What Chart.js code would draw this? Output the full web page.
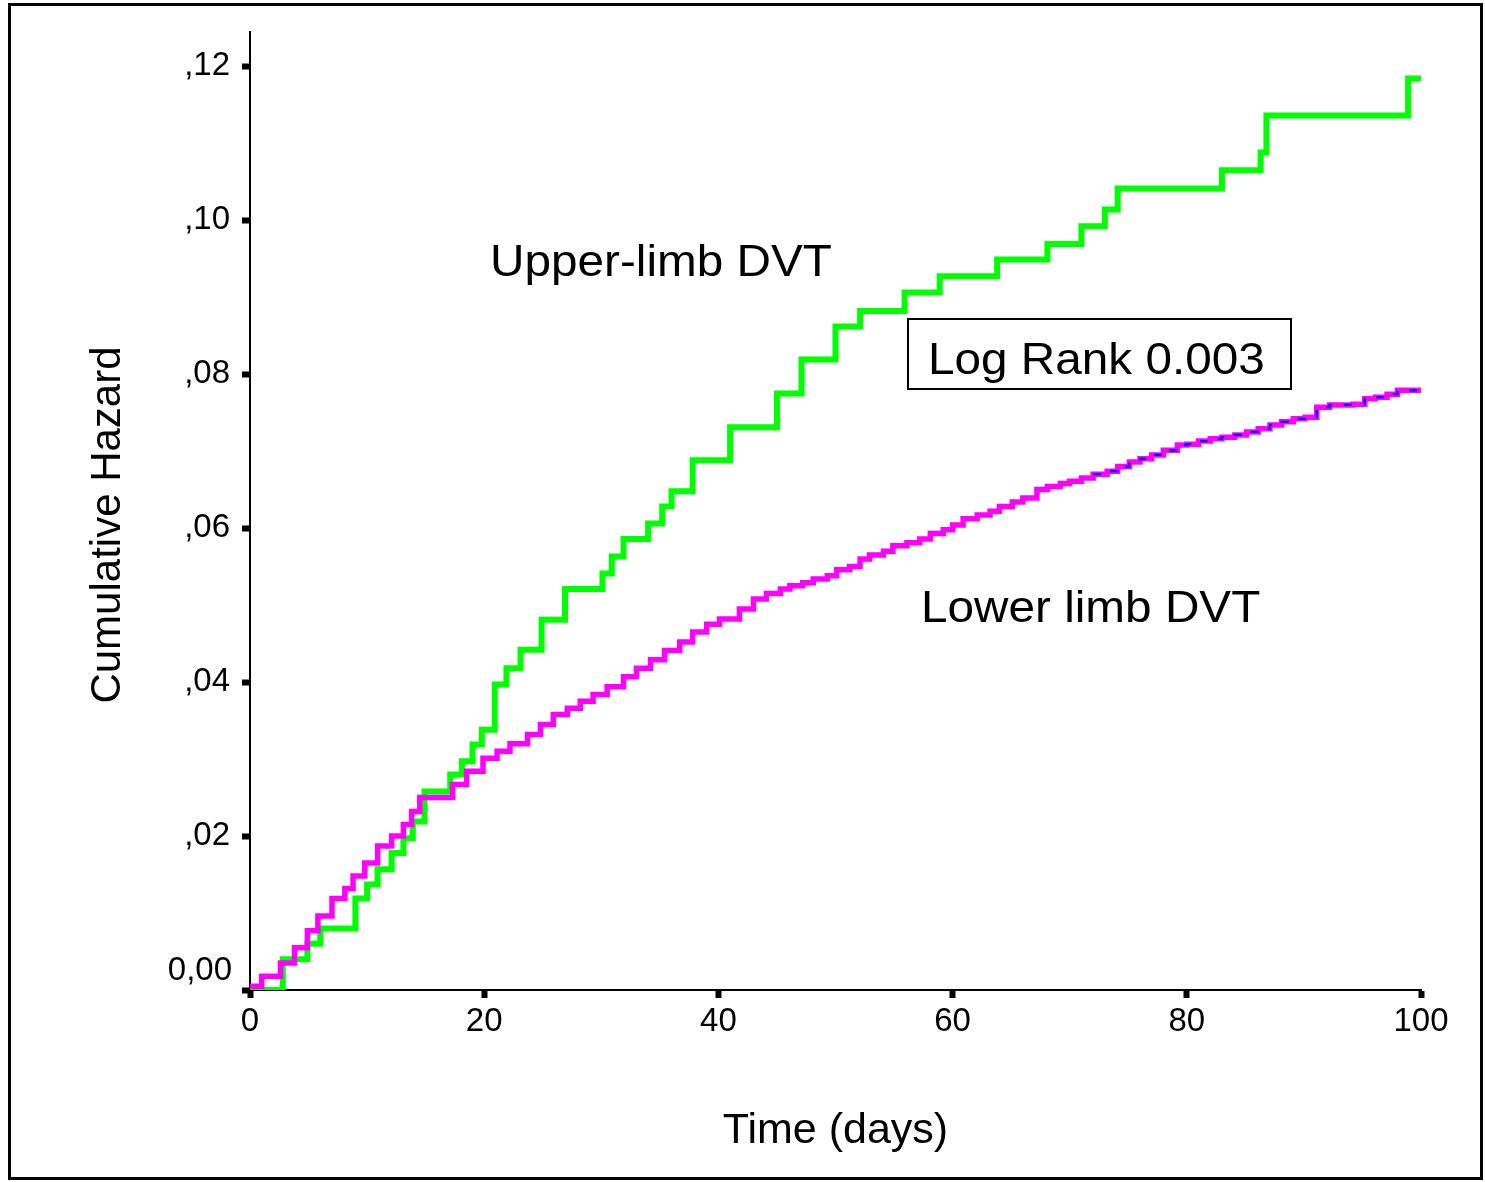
<!DOCTYPE html>
<html>
<head>
<meta charset="utf-8">
<script src="https://cdn.jsdelivr.net/npm/chart.js@4/dist/chart.umd.min.js"></script>
<style>
  html, body { margin: 0; padding: 0; background: #fff; }
  #wrap { width: 1485px; height: 1182px; position: relative; }
</style>
</head>
<body>
<div id="wrap"><canvas id="c" width="1485" height="1182"></canvas></div>
<script>
// ---- Data ----
const upperDays = [0, 2.8, 4.9, 6.0, 9.0, 10.0, 10.9, 12.1, 13.1, 13.9, 14.9, 17.1, 18.1, 19.0, 19.8, 20.9, 21.9, 23.1, 24.9, 26.9, 30.1, 30.9, 31.9, 34.0, 35.2, 36.0, 37.8, 41.0, 45.0, 47.1, 50.0, 52.1, 55.9, 58.9, 63.8, 68.1, 71.0, 73.0, 74.1, 83.0, 86.3, 86.8, 98.9, 100];
const upperHazard = [0, 0.0040, 0.0060, 0.0080, 0.0119, 0.0137, 0.0157, 0.0178, 0.0197, 0.0219, 0.0258, 0.0280, 0.0297, 0.0319, 0.0338, 0.0397, 0.0418, 0.0442, 0.0481, 0.0521, 0.0541, 0.0563, 0.0586, 0.0606, 0.0628, 0.0648, 0.0688, 0.0731, 0.0775, 0.0819, 0.0862, 0.0882, 0.0906, 0.0927, 0.0949, 0.0969, 0.0992, 0.1014, 0.1041, 0.1065, 0.1088, 0.1136, 0.1184, 0.1184];

const lowerDays = [0, 1.0, 2.6, 3.8, 4.9, 5.8, 7.0, 8.1, 8.8, 9.8, 10.9, 12.1, 13.1, 13.8, 14.5, 17.3, 18.5, 19.9, 21.1, 22.2, 23.7, 24.8, 25.9, 27.1, 28.2, 29.3, 30.5, 31.9, 33.0, 34.2, 35.4, 36.7, 37.8, 39.0, 40.1, 41.8, 43.0, 44.1, 45.3, 46.1, 47.2, 48.1, 49.3, 50.1, 51.2, 52.1, 52.9, 54.1, 54.9, 56.1, 57.2, 58.1, 59.2, 60.0, 60.9, 62.1, 63.2, 64.0, 65.1, 66.0, 67.2, 68.1, 69.2, 70.0, 71.0, 72.0, 73.2, 74.1, 75.1, 76.0, 77.0, 78.0, 79.2, 80.0, 81.0, 82.0, 83.0, 84.1, 85.1, 86.1, 87.1, 88.1, 89.1, 90.1, 91.1, 92.2, 94.2, 95.2, 96.1, 97.1, 98.0, 100];
const lowerHazard = [0.0005, 0.0018, 0.0035, 0.0055, 0.0077, 0.0096, 0.0119, 0.0132, 0.0148, 0.0165, 0.0187, 0.0200, 0.0215, 0.0232, 0.0250, 0.0267, 0.0284, 0.0301, 0.0310, 0.0320, 0.0332, 0.0345, 0.0358, 0.0366, 0.0375, 0.0384, 0.0394, 0.0407, 0.0418, 0.0429, 0.0441, 0.0452, 0.0465, 0.0475, 0.0482, 0.0495, 0.0508, 0.0515, 0.0521, 0.0525, 0.0529, 0.0534, 0.0538, 0.0546, 0.0550, 0.0560, 0.0565, 0.0570, 0.0577, 0.0581, 0.0586, 0.0593, 0.0598, 0.0604, 0.0612, 0.0617, 0.0622, 0.0628, 0.0634, 0.0639, 0.0650, 0.0654, 0.0658, 0.0661, 0.0665, 0.0670, 0.0674, 0.0680, 0.0686, 0.0690, 0.0695, 0.0701, 0.0708, 0.0709, 0.0713, 0.0716, 0.0718, 0.0721, 0.0725, 0.0729, 0.0734, 0.0738, 0.0742, 0.0744, 0.0757, 0.0760, 0.0761, 0.0768, 0.0770, 0.0774, 0.0779, 0.0779];

const xTickValues = [0, 20, 40, 60, 80, 100];
const yTickLabels = ['0,00', ',02', ',04', ',06', ',08', ',10', ',12'];

const seriesNames = ['Upper-limb DVT', 'Lower limb DVT'];
const logRankText = 'Log Rank 0.003';
const xTitle = 'Time (days)';
const yTitle = 'Cumulative Hazard';
const overlayFromDay = 72;

// ---- Build datasets ----
const toPts = (xs, ys) => xs.map((x, i) => ({ x: x, y: ys[i] }));
const upperPts = toPts(upperDays, upperHazard);
const lowerPts = toPts(lowerDays, lowerHazard);
const overlayPts = lowerPts.filter(p => p.x >= overlayFromDay);

const FONT = "'Liberation Sans', Arial, Helvetica, sans-serif";

function stretchedText(ctx, text, x, y, sx) {
  ctx.save();
  ctx.translate(x, y);
  ctx.scale(sx, 1);
  ctx.fillText(text, 0, 0);
  ctx.restore();
}

const decorPlugin = {
  id: 'decor',
  afterDraw(chart) {
    const ctx = chart.ctx;
    const ys = chart.scales.y;
    ctx.save();
    // outer frame
    ctx.strokeStyle = '#000';
    ctx.lineWidth = 3;
    ctx.strokeRect(9.5, 4.5, 1472, 1174);
    ctx.fillStyle = '#000';
    // zero label (offset upward like the reference)
    ctx.font = '33px ' + FONT;
    ctx.textAlign = 'right';
    ctx.textBaseline = 'middle';
    ctx.fillText(yTickLabels[0], 232, ys.getPixelForValue(0) - 19);
    // y axis title
    ctx.save();
    ctx.translate(108, 525);
    ctx.rotate(-Math.PI / 2);
    ctx.textAlign = 'center';
    ctx.textBaseline = 'middle';
    ctx.font = '42px ' + FONT;
    ctx.fillText(yTitle, 0, 0);
    ctx.restore();
    // series labels
    ctx.font = '45px ' + FONT;
    ctx.textAlign = 'left';
    ctx.textBaseline = 'alphabetic';
    stretchedText(ctx, seriesNames[0], 490, 276, 1.06);
    stretchedText(ctx, seriesNames[1], 921, 622, 1.06);
    // log rank box
    ctx.lineWidth = 2;
    ctx.strokeRect(908, 319, 383, 70);
    stretchedText(ctx, logRankText, 928, 374, 1.06);
    ctx.restore();
  }
};

new Chart(document.getElementById('c'), {
  type: 'line',
  data: {
    datasets: [
      {
        label: seriesNames[0],
        data: upperPts,
        borderColor: '#00FF00',
        borderWidth: 6,
        stepped: 'before',
        pointRadius: 0,
        fill: false,
        order: 2
      },
      {
        label: seriesNames[1],
        data: lowerPts,
        borderColor: '#FF00FF',
        borderWidth: 5.5,
        stepped: 'before',
        pointRadius: 0,
        fill: false,
        order: 1
      },
      {
        label: 'overlay',
        data: overlayPts,
        borderColor: '#0000FF',
        borderWidth: 2.2,
        borderDash: [8, 12],
        stepped: 'before',
        pointRadius: 0,
        fill: false,
        order: 0
      }
    ]
  },
  options: {
    responsive: false,
    animation: false,
    devicePixelRatio: 1,
    layout: { padding: { left: 83, top: 30, right: 64, bottom: 27 } },
    plugins: {
      legend: { display: false },
      tooltip: { enabled: false }
    },
    scales: {
      x: {
        type: 'linear',
        min: 0,
        max: 100,
        afterFit(s) { s.height = 165; },
        afterBuildTicks(s) { s.ticks = xTickValues.map(v => ({ value: v })); },
        ticks: {
          color: '#000',
          font: { size: 33, family: FONT },
          padding: 4,
          maxRotation: 0,
          callback: v => String(v)
        },
        grid: {
          drawOnChartArea: false,
          drawTicks: true,
          tickLength: 8,
          tickWidth: 6,
          tickColor: '#000'
        },
        border: { display: true, color: '#000', width: 2 },
        title: {
          display: true,
          text: xTitle,
          color: '#000',
          font: { size: 43, family: FONT },
          padding: { top: 0, bottom: -2 }
        }
      },
      y: {
        type: 'linear',
        min: 0,
        max: 0.12447,
        afterFit(s) { s.width = 167; },
        ticks: {
          stepSize: 0.02,
          includeBounds: false,
          color: '#000',
          font: { size: 33, family: FONT },
          padding: 12,
          callback: (v) => {
            const i = Math.round(v / 0.02);
            return i === 0 ? '' : yTickLabels[i];
          }
        },
        grid: {
          drawOnChartArea: false,
          drawTicks: true,
          tickLength: 8,
          tickWidth: 6,
          tickColor: '#000'
        },
        border: { display: true, color: '#000', width: 2 },
        title: { display: false, text: yTitle }
      }
    }
  },
  plugins: [decorPlugin]
});
</script>
</body>
</html>
